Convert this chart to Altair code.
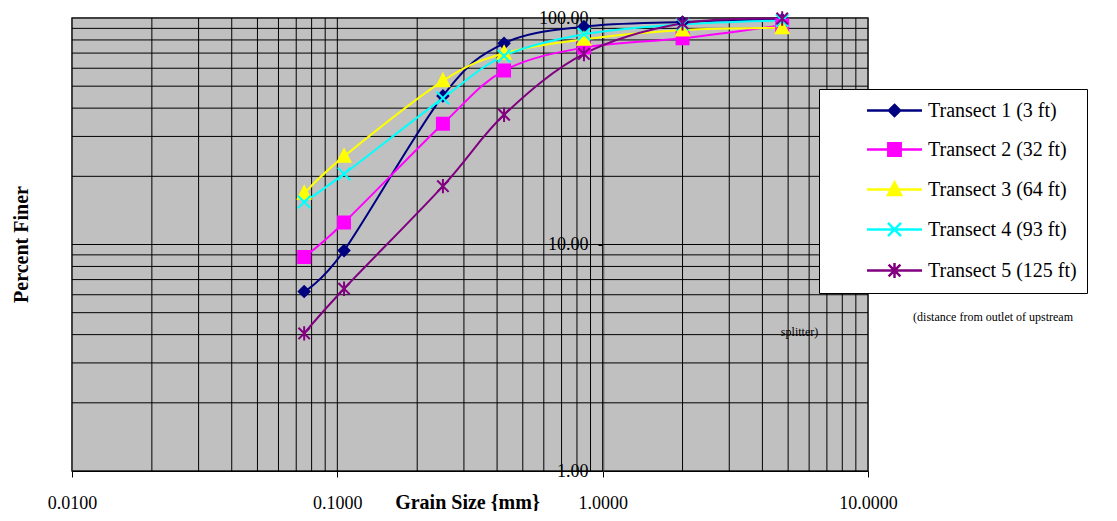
import altair as alt
import pandas as pd

# ---- data ----
grain_sizes = [0.075, 0.106, 0.25, 0.425, 0.85, 2.0, 4.75]
series_names = ["Transect 1 (3 ft)", "Transect 2 (32 ft)", "Transect 3 (64 ft)",
                "Transect 4 (93 ft)", "Transect 5 (125 ft)"]
transect1 = [6.2, 9.4, 45.3, 77.3, 91.6, 96.0, 98.5]
transect2 = [8.8, 12.5, 34.1, 58.6, 74.0, 81.4, 93.0]
transect3 = [16.8, 24.5, 52.8, 69.9, 80.5, 88.5, 90.5]
transect4 = [15.4, 20.5, 44.3, 68.0, 84.8, 93.8, 97.5]
transect5 = [4.05, 6.38, 18.1, 37.4, 69.4, 94.7, 99.5]
series_values = [transect1, transect2, transect3, transect4, transect5]
series_colors = ["#000080", "#FF00FF", "#FFFF00", "#00FFFF", "#800080"]

x_tick_values = [0.01, 0.1, 1, 10]
y_tick_values = [1, 10, 100]
x_grid_values = [m * d for d in [0.01, 0.1, 1] for m in range(1, 10)] + [10]
y_grid_values = [m * d for d in [1, 10] for m in range(1, 10)] + [100]

note_texts = ["(distance from outlet of upstream", "splitter)"]
note_x = [29.6, 5.52]
note_y = [4.77, 4.10]

# ---- marker shapes ----
def fmt(v):
    return f"{v:.3f}".rstrip("0").rstrip(".")

def diamond(s):
    a = 0.9 * s
    return f"M0,{fmt(-a)}L{fmt(a)},0L0,{fmt(a)}L{fmt(-a)},0Z"

def square(s):
    a = 1.0 * s
    return f"M{fmt(-a)},{fmt(-a)}L{fmt(a)},{fmt(-a)}L{fmt(a)},{fmt(a)}L{fmt(-a)},{fmt(a)}Z"

def triangle(s):
    return f"M0,{fmt(-1.15 * s)}L{fmt(1.05 * s)},{fmt(0.9 * s)}L{fmt(-1.05 * s)},{fmt(0.9 * s)}Z"

def xmark(s):
    a = 1.05 * s
    return f"M{fmt(-a)},{fmt(-a)}L{fmt(a)},{fmt(a)}M{fmt(-a)},{fmt(a)}L{fmt(a)},{fmt(-a)}"

def asterisk(s):
    a = 0.95 * s
    b = 1.2 * s
    return (f"M{fmt(-a)},{fmt(-a)}L{fmt(a)},{fmt(a)}M{fmt(-a)},{fmt(a)}L{fmt(a)},{fmt(-a)}"
            f"M0,{fmt(-b)}L0,{fmt(b)}")

marker_funcs = [diamond, square, triangle, xmark, asterisk]
marker_paths = [f(1.0) for f in marker_funcs]
legend_paths = ["M-2.75,0L2.75,0" + f(0.62) for f in marker_funcs]

rows = []
for name, vals in zip(series_names, series_values):
    for gs, v in zip(grain_sizes, vals):
        rows.append({"series": name, "size": gs, "finer": v})
df = pd.DataFrame(rows)

FONT = "Liberation Serif"

xscale = alt.Scale(type="log", domain=[0.01, 10], nice=False)
yscale = alt.Scale(type="log", domain=[1, 100], nice=False)

xaxis = alt.Axis(
    values=x_tick_values, labelExpr="format(datum.value, '.4f')", grid=False,
    tickSize=6, tickColor="black", domainColor="black", domainWidth=1,
    labelFont=FONT, labelFontSize=18, labelColor="black", labelBaseline="alphabetic",
    labelPadding=31, labelFlush=False, labelOverlap=False,
    title="Grain Size {mm}", titleFont=FONT, titleFontSize=20, titleFontWeight="bold",
    titleColor="black", titleX=395, titleY=37, titleBaseline="alphabetic", titleAlign="center",
)
yaxis = alt.Axis(
    values=y_tick_values, labelExpr="format(datum.value, '.2f')", grid=False,
    orient="left", offset=-531, tickSize=5, tickColor="black",
    domainColor="#808080", domainWidth=2,
    labelFont=FONT, labelFontSize=18, labelColor="black", labelPadding=10,
    labelFlush=False, labelOverlap=False,
    title="Percent Finer", titleFont=FONT, titleFontSize=20, titleFontWeight="bold",
    titleColor="black", titleX=-576, titleY=226, titleAngle=270,
    titleBaseline="alphabetic", titleAlign="center",
)

def lookup_expr(values):
    vals = ",".join(f"'{v}'" for v in values)
    names = ",".join(f"'{n}'" for n in series_names)
    return f"[{vals}][indexof([{names}], datum.value)]"

legend = alt.Legend(
    orient="none", legendX=747, legendY=71, padding=10, title=None,
    fillColor="white", strokeColor="black",
    symbolSize=400, symbolStrokeWidth=2.5, symbolOffset=54, labelOffset=22,
    symbolType={"expr": lookup_expr(legend_paths)},
    symbolFillColor={"expr": lookup_expr(series_colors)},
    symbolStrokeColor={"expr": lookup_expr(series_colors)},
    symbolOpacity=1,
    labelFont=FONT, labelFontSize=20, labelColor="black", labelLimit=800,
    rowPadding=16,
)

color_scale = alt.Scale(domain=series_names, range=series_colors)

vgrid = alt.Chart(pd.DataFrame({"gx": x_grid_values})).mark_rule(
    color="black", strokeWidth=1
).encode(x=alt.X("gx:Q", scale=xscale, axis=xaxis))

hgrid = alt.Chart(pd.DataFrame({"gy": y_grid_values})).mark_rule(
    color="black", strokeWidth=1
).encode(y=alt.Y("gy:Q", scale=yscale, axis=yaxis))

lines = alt.Chart(df).mark_line(interpolate="cardinal", strokeWidth=2).encode(
    x=alt.X("size:Q", scale=xscale, axis=xaxis),
    y=alt.Y("finer:Q", scale=yscale, axis=yaxis),
    color=alt.Color("series:N", scale=color_scale, legend=legend, sort=series_names),
)

point_layers = []
for name, col, path in zip(series_names, series_colors, marker_paths):
    point_layers.append(
        alt.Chart(df).transform_filter(alt.datum.series == name).mark_point(
            shape=path, filled=True, fill=col, stroke=col, size=144,
            strokeWidth=2, opacity=1,
        ).encode(
            x=alt.X("size:Q", scale=xscale, axis=xaxis),
            y=alt.Y("finer:Q", scale=yscale, axis=yaxis),
        )
    )

notes = alt.Chart(pd.DataFrame({"note": note_texts, "nx": note_x, "ny": note_y})).mark_text(
    font=FONT, fontSize=12, color="black", align="center", baseline="middle"
).encode(
    x=alt.X("nx:Q", scale=xscale, axis=xaxis),
    y=alt.Y("ny:Q", scale=yscale, axis=yaxis),
    text="note:N",
)

chart = alt.layer(vgrid, hgrid, lines, *point_layers, notes).properties(
    width=796, height=453,
    padding={"left": 64, "top": 10, "right": 241, "bottom": 40},
    autosize=alt.AutoSizeParams(type="none"),
).configure(font=FONT).configure_view(
    fill="#C0C0C0", stroke="#808080", strokeWidth=2
)

chart.save("out.html", embed_options={"renderer": "svg", "actions": False})
